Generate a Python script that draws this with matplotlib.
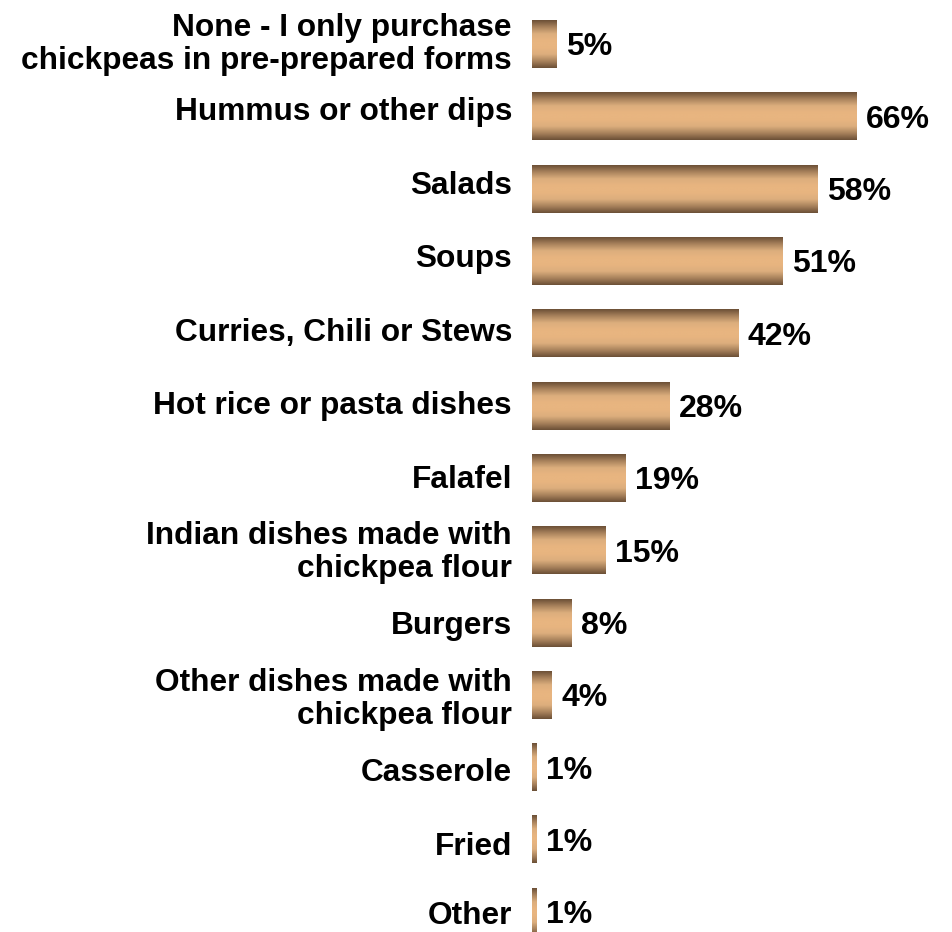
import numpy as np
import matplotlib
matplotlib.use("Agg")
import matplotlib.pyplot as plt
from matplotlib.colors import LinearSegmentedColormap

categories = [
    "None - I only purchase\nchickpeas in pre-prepared forms",
    "Hummus or other dips",
    "Salads",
    "Soups",
    "Curries, Chili or Stews",
    "Hot rice or pasta dishes",
    "Falafel",
    "Indian dishes made with\nchickpea flour",
    "Burgers",
    "Other dishes made with\nchickpea flour",
    "Casserole",
    "Fried",
    "Other",
]
values = [5, 66, 58, 51, 42, 28, 19, 15, 8, 4, 1, 1, 1]

plt.rcParams["font.family"] = ["Liberation Sans", "DejaVu Sans"]

W, H = 953, 932
fig = plt.figure(figsize=(W / 100, H / 100), dpi=100)
ax = fig.add_axes([532 / W, 0, 1 - 532 / W, 1])

px_per_unit = 4.92          # horizontal pixels per percentage point
pitch = 72.33               # vertical pixels per category
top_px = 44                 # pixel row of the first bar's centre
xmax = (W - 532) / px_per_unit
ylims = ((H - top_px) / pitch, -top_px / pitch)


def px_to_y(p):
    """Convert a pixel row (from the top) to a data y value."""
    return (p - top_px) / pitch


fs = 22.8
em_px = fs * 100 / 72
cap_px = 0.716 * em_px               # cap height in pixels
desc_px = 0.21 * em_px               # descender depth in pixels
line_px = 33                          # baseline-to-baseline distance
margin_top = 13

bar_h = 0.66
cmap = LinearSegmentedColormap.from_list(
    "tan", ["#6b4f36", "#a8825c", "#dcae7d", "#e8b580", "#e8b580", "#dcae7d", "#a8825c", "#6b4f36"]
)
grad = np.linspace(0, 1, 256).reshape(-1, 1)

ypos = np.arange(len(categories))
bars = ax.barh(ypos, values, height=bar_h, color="none", edgecolor="none")
for bar, v in zip(bars, values):
    x0, y0 = bar.get_x(), bar.get_y()
    w, h = bar.get_width(), bar.get_height()
    ax.imshow(grad, cmap=cmap, aspect="auto", extent=(x0, x0 + w, y0 + h, y0),
              interpolation="bilinear", zorder=2)
    yc = y0 + h / 2 + (cap_px / 2) / pitch
    ax.text(x0 + w + 1.9, yc, f"{v}%", ha="left", va="baseline",
            fontsize=23, fontweight="bold", color="black")

# category labels: caps centred on a slightly wider row pitch than the bars,
# kept inside the figure at top and bottom
label_top = 35.5
label_pitch = 73.45
for i, lab in enumerate(categories):
    c = label_top + i * label_pitch
    lines = lab.split("\n")
    n = len(lines)
    block = cap_px + (n - 1) * line_px
    c = max(c, block / 2 + margin_top)
    first_base = c - block / 2 + cap_px
    last_base = first_base + (n - 1) * line_px
    shift = min(0.0, (H - 1 - desc_px) - last_base)
    for k, line in enumerate(lines):
        ax.text(-20 / px_per_unit, px_to_y(first_base + shift + k * line_px), line,
                ha="right", va="baseline", fontsize=fs, fontweight="bold",
                color="black")

ax.set_xlim(0, xmax)
ax.set_ylim(*ylims)
ax.axis("off")

fig.savefig("out.png", dpi=100)
